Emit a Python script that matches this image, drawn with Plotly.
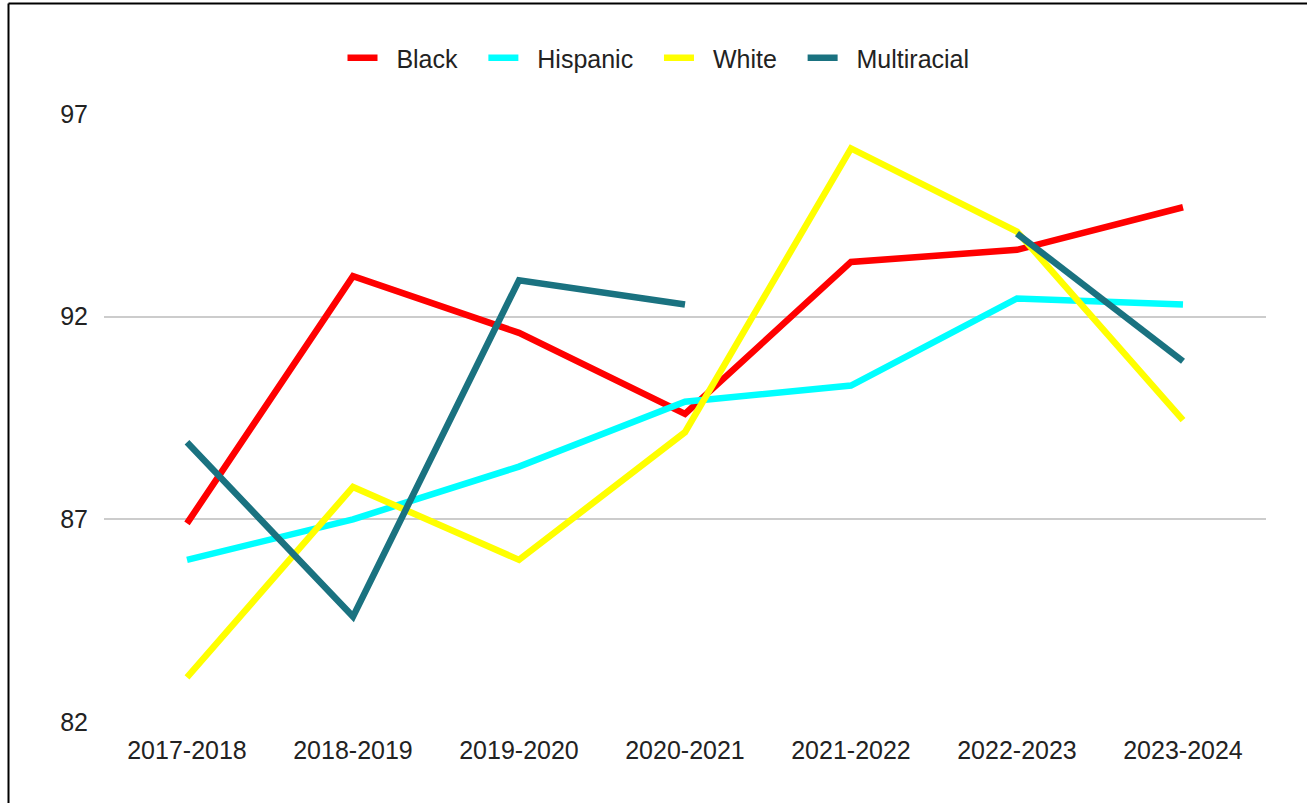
import plotly.graph_objects as go

# School years on the x axis
years = ["2017-2018", "2018-2019", "2019-2020", "2020-2021",
         "2021-2022", "2022-2023", "2023-2024"]

# Rates by group (percent)
black = [86.9, 93.0, 91.6, 89.6, 93.35, 93.65, 94.7]
hispanic = [86.0, 87.0, 88.3, 89.9, 90.3, 92.45, 92.3]
white = [83.1, 87.8, 86.0, 89.15, 96.15, 94.1, 89.45]
multiracial = [88.9, 84.6, 92.9, 92.3, None, 94.05, 90.9]

y_ticks = [82, 87, 92, 97]

series = [
    ("Black", black, "#ff0000"),
    ("Hispanic", hispanic, "#00ffff"),
    ("White", white, "#ffff00"),
    ("Multiracial", multiracial, "#1a7280"),
]

NB = "\u00a0"

fig = go.Figure()
for name, vals, color in series:
    fig.add_trace(go.Scatter(
        x=years, y=vals, name=NB * 2 + name + NB * 3, mode="lines",
        line=dict(color=color, width=6.5),
        connectgaps=False,
    ))

W, H = 1307, 803
L, R, T, B = 104, 41, 114, 81
pw, ph = W - L - R, H - T - B

def px_x(x):
    return (x - L) / pw

def px_y(y):
    return 1 - (y - T) / ph

# Thin dark frame along the top and left edges
frame = dict(color="#000000", width=2)
fig.add_shape(type="line", xref="paper", yref="paper",
              x0=px_x(8.5), x1=px_x(W + 5), y0=px_y(3.5), y1=px_y(3.5), line=frame)
fig.add_shape(type="line", xref="paper", yref="paper",
              x0=px_x(8.5), x1=px_x(8.5), y0=px_y(3.5), y1=px_y(H + 5), line=frame)

fig.update_layout(
    width=W, height=H,
    margin=dict(l=L, r=R, t=T, b=B, autoexpand=False),
    paper_bgcolor="white", plot_bgcolor="white",
    font=dict(family="Liberation Sans, Arial, sans-serif", size=25, color="#222222"),
    showlegend=True,
    legend=dict(orientation="h", x=0.5 - 16 / pw, xanchor="center", y=px_y(58),
                yanchor="middle", font=dict(size=25), itemwidth=30,
                traceorder="normal"),
    xaxis=dict(range=[-0.5, 6.5], showgrid=False, zeroline=False, showline=False,
               automargin=False, ticklabelstandoff=11, tickfont=dict(size=25)),
    yaxis=dict(range=[82, 97], tickvals=y_ticks, showgrid=True,
               gridcolor="#cccccc", gridwidth=2, zeroline=False, showline=False,
               automargin=False, ticklabelstandoff=15, tickfont=dict(size=25)),
)

fig.write_html("out.html")
